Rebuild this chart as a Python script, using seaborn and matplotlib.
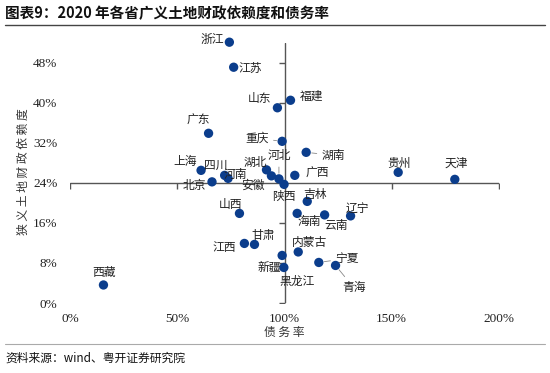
import numpy as np
import pandas as pd
import matplotlib
matplotlib.use("Agg")
import matplotlib.pyplot as plt
from matplotlib.lines import Line2D
import seaborn as sns

# data: debt ratio (x) vs land-finance dependence (y)
provinces = ["浙江", "江苏", "山东", "福建", "广东", "重庆", "湖南", "贵州", "天津", "广西",
             "上海", "四川", "河南", "北京", "湖北", "河北", "安徽", "陕西", "吉林", "山西",
             "海南", "云南", "辽宁", "甘肃", "江西", "内蒙古", "新疆", "黑龙江", "宁夏", "青海", "西藏"]
debt_ratio = [0.743, 0.763, 0.967, 1.028, 0.646, 0.989, 1.101, 1.530, 1.794, 1.048,
              0.611, 0.721, 0.737, 0.662, 0.916, 0.974, 0.939, 0.998, 1.106, 0.790,
              1.059, 1.187, 1.308, 0.860, 0.813, 1.064, 0.989, 0.997, 1.160, 1.238, 0.156]
land_dep = [0.521, 0.471, 0.390, 0.405, 0.339, 0.323, 0.301, 0.261, 0.247, 0.255,
            0.265, 0.255, 0.249, 0.242, 0.266, 0.248, 0.254, 0.237, 0.203, 0.179,
            0.179, 0.176, 0.174, 0.117, 0.119, 0.102, 0.095, 0.071, 0.081, 0.075, 0.036]

x_ticks = [0, 0.5, 1.0, 1.5, 2.0]
y_ticks = [0, 0.08, 0.16, 0.24, 0.32, 0.40, 0.48]

# label offsets in pixels (dx, dy), and which labels get a leader line
label_offsets = {
    "浙江": (-17, 3), "江苏": (17, -1), "山东": (-18, 9), "福建": (21, 4), "广东": (-10, 13),
    "重庆": (-25, 3), "湖南": (27, -3), "贵州": (1, 9), "天津": (1, 16), "广西": (23, 2),
    "上海": (-16, 9), "四川": (-9, 10), "河南": (7, 4), "北京": (-18, -4), "湖北": (-11, 7),
    "河北": (0, 23), "安徽": (-18, -9), "陕西": (0, -12), "吉林": (8, 7), "山西": (-9, 9),
    "海南": (12, -8), "云南": (12, -11), "辽宁": (7, 8), "甘肃": (9, 9), "江西": (-20, -4),
    "内蒙古": (11, 9), "新疆": (-13, -12), "黑龙江": (13, -14), "宁夏": (28, 4),
    "青海": (18, -22), "西藏": (1, 12),
}
leaders = ["重庆", "湖南", "河北", "宁夏", "青海"]

df = pd.DataFrame({"province": provinces, "debt": debt_ratio, "dep": land_dep})

sns.set_style("white")
plt.rcParams["font.family"] = ["Noto Sans CJK SC", "DejaVu Sans"]

fig = plt.figure(figsize=(5.5, 3.73), dpi=100)
ax = fig.add_axes([70 / 550, 70 / 373, 429 / 550, 260.3 / 373])

dot_color = "#0b3d8c"
axis_color = "#555555"

# crossing axes at 100% / 24%
ax.axvline(1.0, color=axis_color, lw=1.0, zorder=1)
ax.axhline(0.24, color=axis_color, lw=1.0, zorder=1)
ax.plot(np.full(len(y_ticks), 1.0), y_ticks, ls="", marker=0, ms=4, mew=1.0,
        color=axis_color, zorder=1)
ax.plot(x_ticks, np.full(len(x_ticks), 0.24), ls="", marker=3, ms=4, mew=1.0,
        color=axis_color, zorder=1)

sns.scatterplot(data=df, x="debt", y="dep", ax=ax, color=dot_color, s=45,
                edgecolor="none", zorder=3, clip_on=False, legend=False)

for name, xv, yv in zip(provinces, debt_ratio, land_dep):
    dx, dy = label_offsets[name]
    arrow = None
    if name in leaders:
        arrow = dict(arrowstyle="-", color="#888888", lw=0.6, shrinkA=1, shrinkB=4)
    ax.annotate(name, (xv, yv), xytext=(dx, dy), textcoords="offset pixels",
                ha="center", va="center", fontsize=8.5, color="#222222",
                arrowprops=arrow, zorder=4, annotation_clip=False)

ax.set_xlim(0, 2.0)
ax.set_ylim(0, 0.52)
ax.set_xticks(x_ticks)
ax.set_yticks(y_ticks)
ax.set_xticklabels([f"{v:.0%}" for v in x_ticks], family="Liberation Serif", fontsize=9.5)
ax.set_yticklabels([f"{v:.0%}" for v in y_ticks], family="Liberation Serif", fontsize=9.5)
ax.tick_params(axis="both", length=0, colors="#222222")
ax.tick_params(axis="y", pad=9)
ax.tick_params(axis="x", pad=7)
for sp in ax.spines.values():
    sp.set_visible(False)

ax.set_xlabel("债 务 率", fontsize=8.5, color="#333333", labelpad=1)
ax.set_ylabel("狭 义 土 地 财 政 依 赖 度", fontsize=8.5, color="#333333", labelpad=4)
ax.yaxis.set_label_coords(-40 / 429, (303 - 172) / 260.3)

# title, rules and source note
fig.text(5 / 550, 1 - 13 / 373, "图表9：2020 年各省广义土地财政依赖度和债务率",
         fontsize=10.5, fontweight="bold", va="center", ha="left", color="#111111")
fig.add_artist(Line2D([5 / 550, 545 / 550], [1 - 25 / 373, 1 - 25 / 373],
                      transform=fig.transFigure, color="#444444", lw=1.0))
fig.add_artist(Line2D([5 / 550, 545 / 550], [1 - 344 / 373, 1 - 344 / 373],
                      transform=fig.transFigure, color="#aaaaaa", lw=0.8))
fig.text(5 / 550, 1 - 358 / 373, "资料来源：wind、粤开证券研究院", fontsize=8.5,
         style="italic", va="center", ha="left", color="#111111")

fig.savefig("out.png", dpi=100)
